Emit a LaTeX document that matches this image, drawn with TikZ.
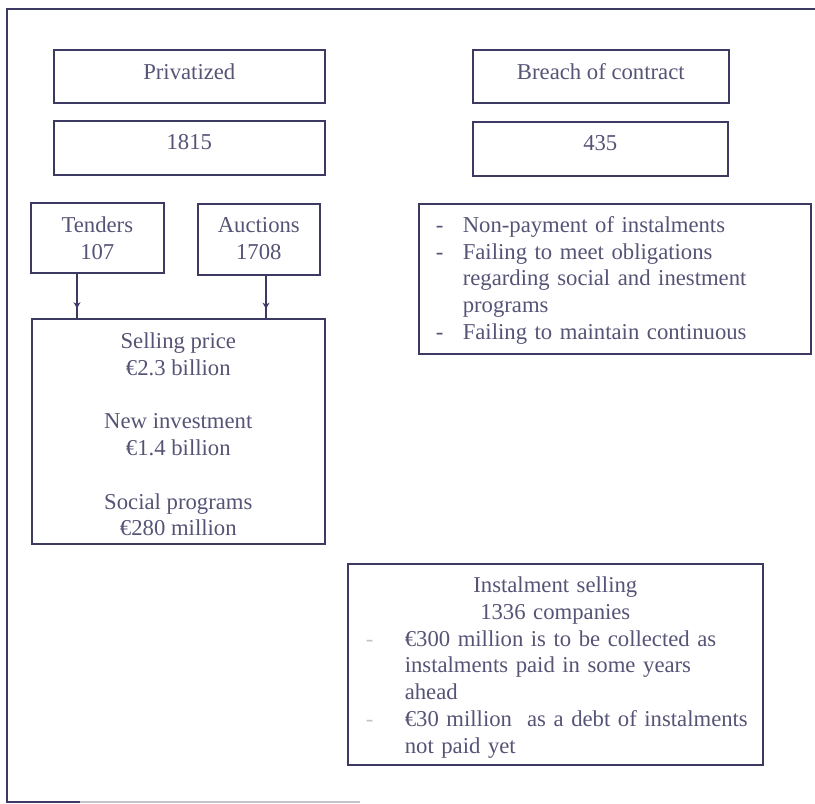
\documentclass[tikz,border=0pt]{standalone}
\usepackage{fontspec}
\setmainfont{Liberation Serif}
\usetikzlibrary{arrows.meta,decorations.markings}
\definecolor{ink}{RGB}{86,84,118}
\definecolor{rule}{RGB}{60,58,98}
\definecolor{faint}{RGB}{196,196,206}
\begin{document}
\begin{tikzpicture}[x=1pt,y=-1pt,
  box/.style={draw=rule, line width=1.6pt, inner sep=0pt, anchor=north west,
    text=ink, font=\fontsize{22.7pt}{26.7pt}\selectfont},
  onerow/.style={box, align=center, text height=30pt, text depth=23pt},
  conn/.style={draw=rule, line width=1.8pt, postaction={decorate},
    decoration={markings, mark=at position 0.78 with {\arrow[rule]{Stealth[length=6pt,width=7pt]}}}},
  frameline/.style={draw=rule, line width=1.6pt}]
\useasboundingbox (0,0) rectangle (815,804);

% outer frame (left, top and part of the bottom)
\coordinate (ftl) at (7,9);
\coordinate (ftr) at (815,9);
\coordinate (fbl) at (7,802);
\coordinate (fbm) at (80,802);
\coordinate (fbe) at (360,802);
\draw[frameline] (ftr) -- (ftl) -- (fbl) -- (fbm);
\draw[frameline, draw=faint] (fbm) -- (fbe);

% left column
\node[onerow, minimum width=271pt] (priv) at (53,49) {Privatized};
\node[onerow, minimum width=271pt, text height=29pt, text depth=25pt] (privn) at (53,120) {1815};

% centred multi-line boxes: text height runs down to the last baseline
\node[box, align=center, minimum width=133pt, text height=56.7pt, text depth=13.3pt] (tend) at (30,202) {Tenders\\107};
\node[box, align=center, minimum width=122pt, text height=55.7pt, text depth=15.3pt] (auct) at (197,203) {Auctions\\1708};

\node[box, align=center, minimum width=293pt, text height=216.9pt, text depth=8.1pt] (big) at (31,318)
  {Selling price\\€2.3 billion\\[26.7pt]New investment\\€1.4 billion\\[26.7pt]Social programs\\€280 million};

\draw[conn] ([xshift=47pt]tend.south west) -- ([xshift=46pt]big.north west);
\draw[conn] ([xshift=69pt]auct.south west) -- ([xshift=235pt]big.north west);

% right column
\node[onerow, minimum width=256pt] (breach) at (472,49) {Breach of contract};
\node[onerow, minimum width=255pt, text height=29pt, text depth=25pt] (breachn) at (472,121) {435};

\node[box, align=left, text width=358pt, inner xsep=17pt, text height=28.7pt, text depth=121.3pt] (reasons) at (418,203)
  {\makebox[27pt][l]{-}Non-payment of instalments\\
   \makebox[27pt][l]{-}Failing to meet obligations\\
   \hspace*{27pt}regarding social and inestment\\
   \hspace*{27pt}programs\\
   \makebox[27pt][l]{-}Failing to maintain continuous};

\node[box, align=left, text width=415pt, text height=29pt, text depth=172pt] (inst) at (347,563)
  {\makebox[\linewidth]{Instalment selling}\\
   \makebox[\linewidth]{1336 companies}\\
   \hspace*{18pt}\makebox[39pt][l]{\textcolor{faint}{-}}€300 million is to be collected as\\
   \hspace*{57pt}instalments paid in some years\\
   \hspace*{57pt}ahead\\
   \hspace*{18pt}\makebox[39pt][l]{\textcolor{faint}{-}}€30 million\ \ as a debt of instalments\\
   \hspace*{57pt}not paid yet};
\end{tikzpicture}
\end{document}
